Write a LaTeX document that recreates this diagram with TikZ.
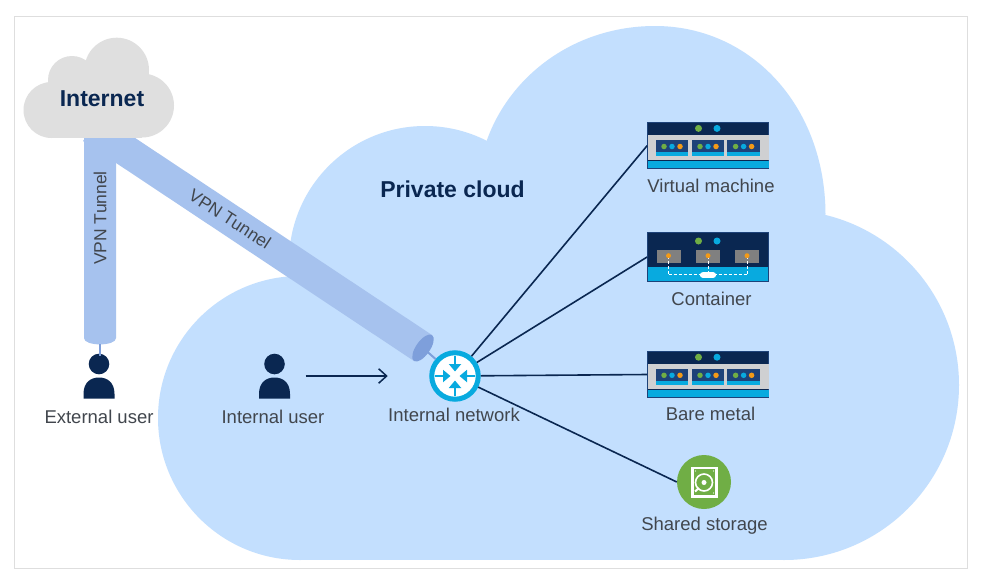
\documentclass[tikz,border=0pt]{standalone}
\usepackage{fontspec}
\setmainfont{Liberation Sans}
\usepackage{xcolor}
\usetikzlibrary{arrows.meta}
\definecolor{navy}{HTML}{0A2751}
\definecolor{modblue}{HTML}{1D4279}
\definecolor{lightsky}{HTML}{C3DFFE}
\definecolor{skyc}{HTML}{08AADF}
\definecolor{tunnelc}{HTML}{A6C2EE}
\definecolor{tunneld}{HTML}{7E9FDB}
\definecolor{greyc}{HTML}{CFD0D2}
\definecolor{cloudgrey}{HTML}{DFDFDF}
\definecolor{greenc}{HTML}{70AE45}
\definecolor{orangec}{HTML}{F39A17}
\definecolor{textc}{HTML}{41464D}
\tikzset{
  lbl/.style={font=\fontsize{18.5}{20}\selectfont, text=textc, inner sep=0pt},
  tlbl/.style={font=\fontsize{17.5}{20}\selectfont, text=textc, inner sep=0pt},
  ttl/.style={font=\fontsize{23}{26}\selectfont\bfseries, text=navy, inner sep=0pt},
  link/.style={draw=navy, line width=1.6pt},
  tube/.style={draw=tunneld, line width=2pt},
  rarrow/.style={draw=skyc, line width=2.6pt, -{Triangle[length=7.5pt,width=12pt]}},
  sdot/.style={circle, inner sep=0pt, minimum size=#1},
  sdot/.default=5.5pt,
  person/.pic={
    \fill[navy] (0,-12) circle (10.3);
    \fill[navy] (-15.5,22.5) -- (-15.5,18) .. controls (-15.5,6) and (-8,1.5) .. (0,1.5)
      .. controls (8,1.5) and (15.5,6) .. (15.5,18) -- (15.5,22.5) -- cycle;
  },
  servermod/.pic={
    \fill[modblue] (0,0) rectangle (32.5,15.7);
    \fill[skyc] (0,11.7) rectangle (32.5,15.7);
    \node[sdot, fill=greenc] at (8.3,6.5) {};
    \node[sdot, fill=skyc] at (16.3,6.5) {};
    \node[sdot, fill=orangec] at (24.3,6.5) {};
  },
  server/.pic={
    \node[draw=modblue, fill=navy, minimum width=121pt, minimum height=46pt, inner sep=0pt, line width=.8pt] (-box) at (60.5,23) {};
    \fill[greyc] (0,12.5) rectangle (121,37);
    \fill[skyc] (0,38.5) rectangle (121,45.5);
    \node[sdot=7pt, fill=greenc] at (51,5.7) {};
    \node[sdot=7pt, fill=skyc] at (69.5,5.7) {};
    \foreach \mx in {8.2,44.2,79.8}
      \pic at (\mx,17.3) {servermod};
  },
}
\begin{document}
\begin{tikzpicture}[x=1pt,y=-1pt]
  \useasboundingbox (0,0) rectangle (985,584);
  \draw[draw=black!13, line width=.8pt, fill=white] (14.5,16.5) rectangle (967.5,568.5);

  % Private cloud
  \fill[lightsky] (300,418) circle (142);
  \fill[lightsky] (425,262) circle (136);
  \fill[lightsky] (486.7,140.7) .. controls (510,75) and (575,26) .. (655,26)
    .. controls (750,26) and (825,105) .. (825.5,214) -- (800,400) -- (480,400) -- cycle;
  \fill[lightsky] (784,385) circle (175);
  \fill[lightsky] (300,280) rectangle (790,560);

  % Tunnels
  \coordinate (tubeend) at (423,348);
  \coordinate (tubefoot) at (99.5,344);
  \fill[tunnelc] (84,130) -- (116,130) -- (116,338) .. controls (116,346.5) and (84,346.5) .. (84,338) -- cycle;
  \fill[tunnelc] (102,116) -- (432,335) -- (414,361) -- (83,141) -- cycle;
  \fill[tunneld] (tubeend) ellipse[x radius=15.8, y radius=7, rotate=55];

  % Internet cloud
  \fill[cloudgrey] (51.5,110) circle (28);
  \fill[cloudgrey] (142,105.5) circle (32);
  \fill[cloudgrey] (116.7,70) circle (32.3);
  \fill[cloudgrey] (72,80) circle (24);
  \fill[cloudgrey] (51,95) rectangle (142,137.7);
  \node[ttl] (internet) at (102,99) {Internet};
  \node[ttl] (private) at (452.5,189) {Private cloud};

  % Icons
  \node[circle, draw=skyc, fill=white, line width=5pt, minimum size=46.5pt, inner sep=0pt] (router) at (455,376) {};
  \draw[tube] (tubeend) -- (router);
  \foreach \ang in {0,90,180,270}
    \draw[rarrow, shift={(router)}, rotate=\ang] (20,0) -- (4.5,0);

  \pic (extuser) at (99,376) {person};
  \pic (intuser) at (274.5,376) {person};
  \coordinate (exthead) at (99.5,356);
  \draw[tube] (tubefoot) -- (exthead);
  \coordinate (intcentre) at (274.5,376);

  \pic (vm) at (647.5,122.7) {server};
  \pic (metal) at (647.5,351.5) {server};

  % Container box
  \node[draw=modblue, fill=navy, minimum width=121pt, minimum height=49pt, inner sep=0pt, line width=.8pt] (cont) at (708,257) {};
  \fill[skyc] (648,267) rectangle (768,281);
  \node[sdot=7pt, fill=greenc] at (698.5,241) {};
  \node[sdot=7pt, fill=skyc] at (717,241) {};
  \foreach \bx in {668.5,708,747} {
    \fill[black!50] (\bx-12,250) rectangle (\bx+12,263);
    \draw[white, line width=.9pt, densely dashed] (\bx,256) -- (\bx,274.5);
    \node[sdot=5pt, fill=orangec] at (\bx,255.7) {};
  }
  \draw[white, line width=.9pt, densely dashed] (668.5,274.5) -- (747,274.5);
  \fill[white, rounded corners=2.6pt] (700,272.2) rectangle (716,277.8);

  % Storage
  \node[circle, fill=greenc, minimum size=54pt, inner sep=0pt] (storage) at (704,482) {};
  \draw[white, line width=2.4pt] (692.5,468) rectangle (716.5,496.5);
  \draw[white, line width=1.6pt] (704,482.5) circle (8.5);
  \fill[white] (704,482.5) circle (2.5);
  \draw[white, line width=2pt] (699,488) -- (695,491.5);
  \foreach \sx/\sy in {695.5/471,713.5/471,713.5/493}
    \fill[white] (\sx,\sy) circle (.6);

  % Connectors
  \draw[link] (router) -- (vm-box.west);
  \draw[link] (router) -- (cont.west);
  \draw[link] (router) -- (metal-box.west);
  \draw[link] (router) -- (storage.west);
  \draw[draw=navy, line width=1.5pt, -{Straight Barb[length=8pt,width=14.5pt]}, shorten <=31pt, shorten >=41.5pt] (intcentre) -- (router);

  % Labels
  \node[lbl] (lvm) at (711,186) {Virtual machine};
  \node[lbl] (lcont) at (711.5,299) {Container};
  \node[lbl] (lmetal) at (710.5,414) {Bare metal};
  \node[lbl] (lstorage) at (704.5,525.5) {Shared storage};
  \node[lbl] (lnet) at (454,415) {Internal network};
  \node[lbl] (lint) at (273,417) {Internal user};
  \node[lbl] (lext) at (99,417) {External user};
  \node[tlbl, rotate=90] (lvpna) at (100,218) {VPN Tunnel};
  \node[tlbl, rotate=-33] (lvpnb) at (230,219) {VPN Tunnel};
\end{tikzpicture}
\end{document}
